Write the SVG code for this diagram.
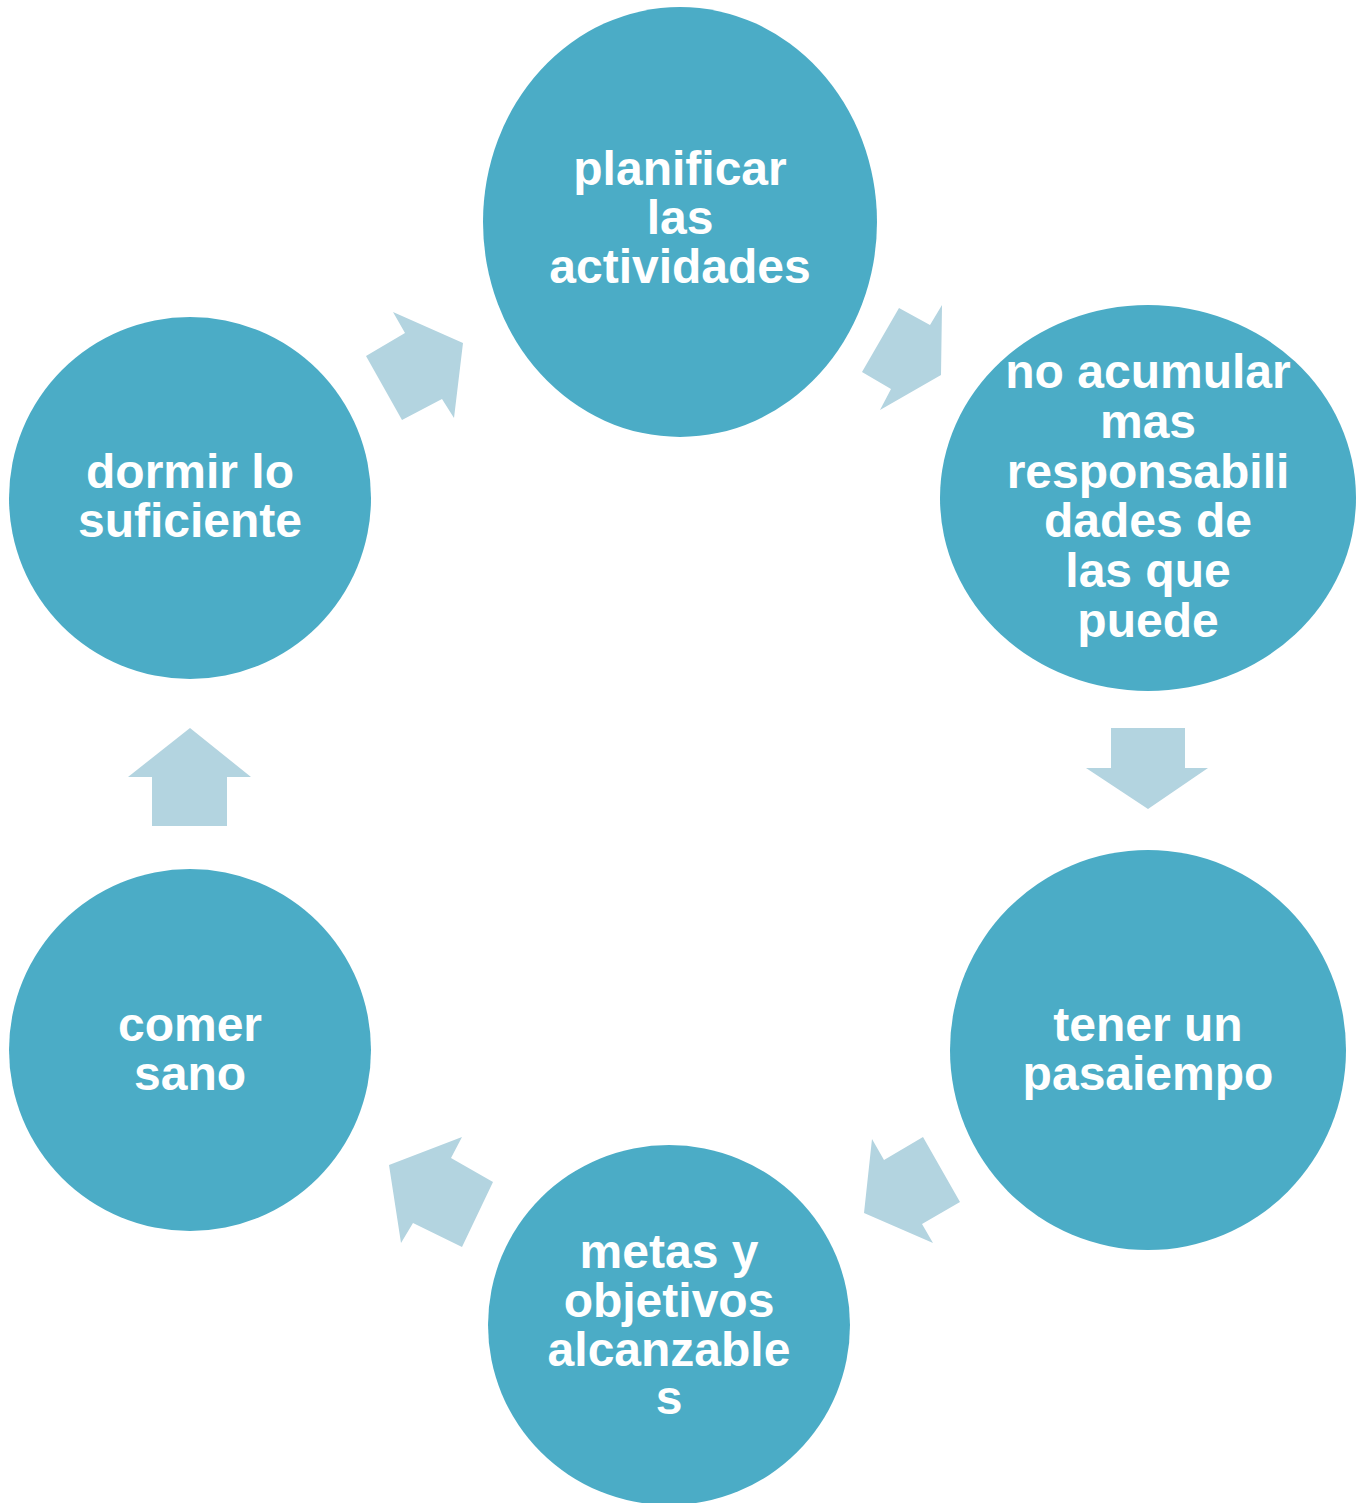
<svg xmlns="http://www.w3.org/2000/svg" width="1366" height="1503" viewBox="0 0 1366 1503">
<style>
.node{fill:#4BACC6}
.arr{fill:#B3D4E0}
.t{font-family:"Liberation Sans",Arial,sans-serif;font-weight:bold;font-size:48px;fill:#FFFFFF;text-anchor:middle}
</style>
<rect width="1366" height="1503" fill="#FFFFFF"/>
<g id="connectors">
<polygon class="arr" points="366,356 405,333 393,312 463,343 454,418 442,399 402,420"/>
<polygon class="arr" points="862,372 899,308 930,325 942,305 941,375 880,410 891,389"/>
<polygon class="arr" points="1111,728 1185,728 1185,768 1208,768 1148,809 1086,768 1111,768"/>
<polygon class="arr" points="872,1139 884,1160 923,1137 960,1202 922,1224 933,1243 864,1213"/>
<polygon class="arr" points="462,1137 451,1158 493,1182 462,1247 413,1223 401,1243 389,1165"/>
<polygon class="arr" points="190,728 251,777 227,777 227,826 152,826 152,777 128,777"/>
</g>
<g id="n1">
<ellipse class="node" cx="680" cy="222" rx="197" ry="215"/>
<text class="t" x="680" y="185">planificar</text>
<text class="t" x="680" y="234">las</text>
<text class="t" x="680" y="283">actividades</text>
</g>
<g id="n2">
<ellipse class="node" cx="1148" cy="498" rx="208" ry="193"/>
<text class="t" x="1148" y="388">no acumular</text>
<text class="t" x="1148" y="438">mas</text>
<text class="t" x="1148" y="488">responsabili</text>
<text class="t" x="1148" y="537">dades de</text>
<text class="t" x="1148" y="587">las que</text>
<text class="t" x="1148" y="637">puede</text>
</g>
<g id="n3">
<ellipse class="node" cx="1148" cy="1050" rx="198" ry="200"/>
<text class="t" x="1148" y="1041">tener un</text>
<text class="t" x="1148" y="1090">pasaiempo</text>
</g>
<g id="n4">
<ellipse class="node" cx="669" cy="1325" rx="181" ry="180"/>
<text class="t" x="669" y="1268">metas y</text>
<text class="t" x="669" y="1317">objetivos</text>
<text class="t" x="669" y="1366">alcanzable</text>
<text class="t" x="669" y="1414">s</text>
</g>
<g id="n5">
<ellipse class="node" cx="190" cy="1050" rx="181" ry="181"/>
<text class="t" x="190" y="1041">comer</text>
<text class="t" x="190" y="1090">sano</text>
</g>
<g id="n6">
<ellipse class="node" cx="190" cy="498" rx="181" ry="181"/>
<text class="t" x="190" y="488">dormir lo</text>
<text class="t" x="190" y="537">suficiente</text>
</g>
</svg>
